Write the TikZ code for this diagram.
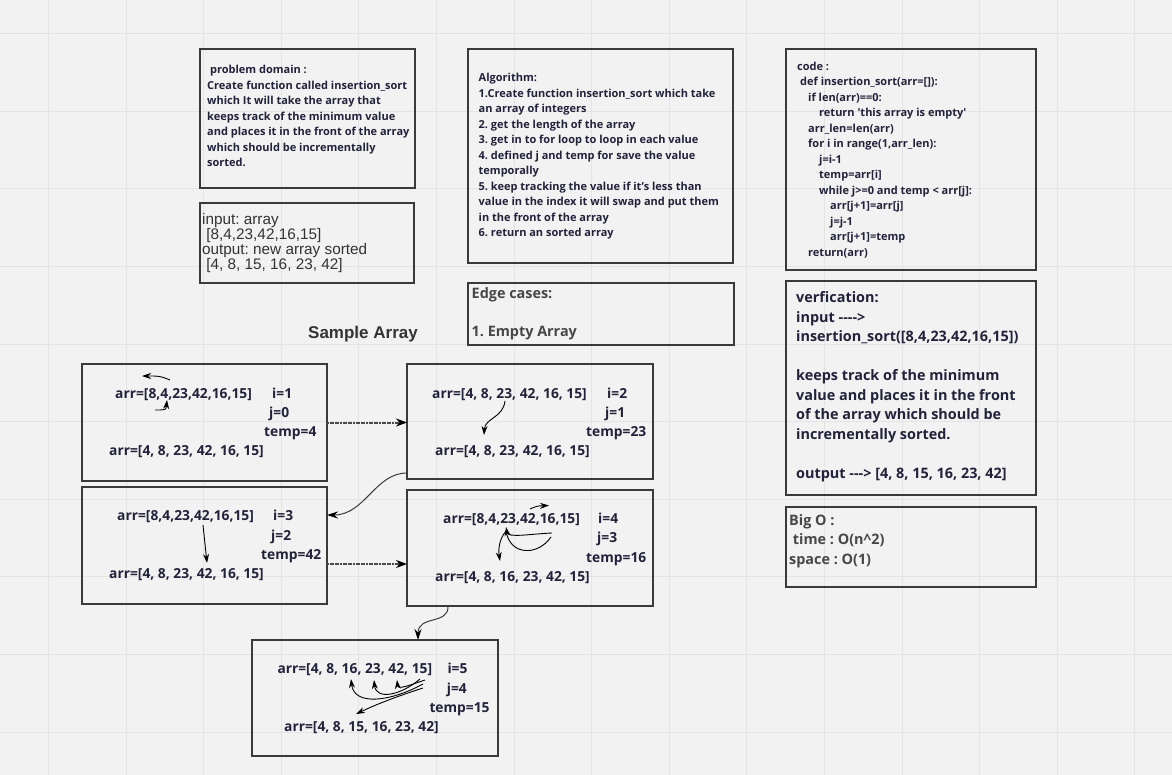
\documentclass[tikz,border=0pt]{standalone}
\usepackage{fontspec}
\setmainfont{Open Sans}
\newfontfamily\arialf{Liberation Sans}
\usetikzlibrary{arrows.meta}
\definecolor{bgc}{HTML}{F2F2F2}
\definecolor{gridc}{HTML}{E4E4E4}
\definecolor{boxc}{HTML}{3A3A3A}
\definecolor{navy}{HTML}{22223A}
\definecolor{grayt}{HTML}{474747}
\definecolor{iot}{HTML}{333333}
\definecolor{dotc}{HTML}{4A4A4A}
\newcommand\stk[2]{\vtop{\baselineskip=#1\lineskiplimit=-100pt\lineskip=0pt\relax #2}}
\newcommand\rw[1]{\hbox{#1}}
\begin{document}
\frenchspacing
\begin{tikzpicture}[x=1pt,y=-1pt,
  panel/.style={draw=boxc,line width=2pt,inner sep=0pt,outer sep=0pt,anchor=north west},
  txt/.style={inner sep=0pt,anchor=base west,text=navy,font=\fontsize{11}{15.5}\selectfont\bfseries\frenchspacing},
  bigt/.style={txt,font=\fontsize{14.4}{19.5}\selectfont\bfseries\frenchspacing},
  grayb/.style={bigt,text=grayt},
  iotxt/.style={inner sep=0pt,anchor=base west,text=iot,font=\fontsize{15.3}{15.2}\selectfont\arialf\frenchspacing},
  arrt/.style={txt,font=\fontsize{13.8}{18}\selectfont\bfseries\frenchspacing},
  gridline/.style={draw=gridc,line width=1.1pt},
  sarr/.style={draw=black,line width=0.9pt,-{Stealth[length=9pt,width=6pt]}},
  conn/.style={draw=boxc,line width=1pt,-{Stealth[length=11pt,width=7pt,color=black]}},
  dotconn/.style={draw=dotc,line width=2pt,dash pattern=on 2pt off 0.6pt,-{Stealth[length=11pt,width=8pt,color=black]}}
]
\useasboundingbox (0,0) rectangle (1172,775);
\fill[bgc] (0,0) rectangle (1172,775);
\foreach \i in {0,...,14} \draw[gridline] ({48.5+77.6*\i},0) -- ({48.5+77.6*\i},775);
\foreach \j in {0,...,9} \draw[gridline] (0,{33.7+77.6*\j}) -- (1172,{33.7+77.6*\j});

% panels
\node[panel,minimum width=215pt,minimum height=139pt] (pd) at (200,49) {};
\node[panel,minimum width=214pt,minimum height=80pt] (io) at (200,203) {};
\node[panel,minimum width=265pt,minimum height=214pt] (alg) at (468,49) {};
\node[panel,minimum width=266pt,minimum height=62pt] (edge) at (468,283) {};
\node[panel,minimum width=250pt,minimum height=221pt] (code) at (786,49) {};
\node[panel,minimum width=250pt,minimum height=214pt] (ver) at (786,281) {};
\node[panel,minimum width=250pt,minimum height=80pt] (bigo) at (786,507) {};
\node[panel,minimum width=245pt,minimum height=117pt] (A) at (82,364) {};
\node[panel,minimum width=246pt,minimum height=115pt] (B) at (407,364) {};
\node[panel,minimum width=245pt,minimum height=117pt] (C) at (82,487) {};
\node[panel,minimum width=246pt,minimum height=116pt] (D) at (407,490) {};
\node[panel,minimum width=246pt,minimum height=116pt] (E) at (252,640) {};

% problem domain
\node[txt] (pdt) at (207,74) {\stk{15.5pt}{%
\rw{\ problem domain :}%
\rw{Create function called insertion\_sort}%
\rw{which It will take the array that}%
\rw{keeps track of the minimum value}%
\rw{and places it in the front of the array}%
\rw{which should be incrementally}%
\rw{sorted.}}};

% input/output
\node[iotxt] (iot) at (202,224.3) {\stk{15.2pt}{%
\rw{input: array}%
\rw{\ [8,4,23,42,16,15]}%
\rw{output: new array sorted}%
\rw{\ [4, 8, 15, 16, 23, 42]}}};

% algorithm
\node[txt] (algt) at (478.5,82) {\stk{15.5pt}{%
\rw{Algorithm:}%
\rw{1.Create function insertion\_sort which take}%
\rw{an array of integers}%
\rw{2. get the length of the array}%
\rw{3. get in to for loop to loop in each value}%
\rw{4. defined j and temp for save the value}%
\rw{temporally}%
\rw{5. keep tracking the value if it's less than}%
\rw{value in the index it will swap and put them}%
\rw{in the front of the array}%
\rw{6. return an sorted array}}};

% edge cases
\node[grayb] (edget) at (471.5,298.2) {\stk{19.2pt}{%
\rw{Edge cases:}%
\rw{}%
\rw{1. Empty Array}}};

% code
\node[txt] (codet) at (797,70.5) {\stk{15.5pt}{%
\rw{code :}%
\rw{\hskip3pt def insertion\_sort(arr=[]):}%
\rw{\hskip11pt if len(arr)==0:}%
\rw{\hskip22pt return \textquotesingle this array is empty\textquotesingle}%
\rw{\hskip11pt arr\_len=len(arr)}%
\rw{\hskip11pt for i in range(1,arr\_len):}%
\rw{\hskip22pt j=i-1}%
\rw{\hskip22pt temp=arr[i]}%
\rw{\hskip22pt while j>=0 and temp < arr[j]:}%
\rw{\hskip33pt arr[j+1]=arr[j]}%
\rw{\hskip33pt j=j-1}%
\rw{\hskip33pt arr[j+1]=temp}%
\rw{\hskip11pt return(arr)}}};

% verification
\node[bigt] (vert) at (796,303) {\stk{19.5pt}{%
\rw{verfication:}%
\rw{input -{}-{}-{}->}%
\rw{insertion\_sort([8,4,23,42,16,15])}%
\rw{}%
\rw{keeps track of the minimum}%
\rw{value and places it in the front}%
\rw{of the array which should be}%
\rw{incrementally sorted.}%
\rw{}%
\rw{output -{}-{}-> [4, 8, 15, 16, 23, 42]}}};

% big O
\node[grayb] (bigot) at (789,525) {\stk{19.5pt}{%
\rw{Big O :}%
\rw{\ time : O(n\textasciicircum 2)}%
\rw{space : O(1)}}};

% sample array title
\node[inner sep=0pt,anchor=base west,text=iot,font=\fontsize{17}{20}\selectfont\arialf\bfseries] (sat) at (308,339) {Sample Array};

% box A
\node[arrt] (a1) at (115,398.3) {arr=[8,4,23,42,16,15]};
\node[arrt] (a2) at (272,398.3) {i=1};
\node[arrt] (a3) at (269,417.3) {j=0};
\node[arrt] (a4) at (264,436.7) {temp=4};
\node[arrt] (a5) at (109,455.7) {arr=[4, 8, 23, 42, 16, 15]};
\draw[sarr] (170,380) .. controls (160,376) .. (142,376);
\draw[sarr] (155,410) .. controls (166,410) .. (167,400);

% box B
\node[arrt] (b1) at (432,398.3) {arr=[4, 8, 23, 42, 16, 15]};
\node[arrt] (b2) at (607,398.3) {i=2};
\node[arrt] (b3) at (605,417.3) {j=1};
\node[arrt] (b4) at (586,436.7) {temp=23};
\node[arrt] (b5) at (435,455.7) {arr=[4, 8, 23, 42, 16, 15]};
\draw[sarr] (505,401) .. controls (503,418) and (485,418) .. (484,435);

% box C
\node[arrt] (c1) at (117,520) {arr=[8,4,23,42,16,15]};
\node[arrt] (c2) at (273,520) {i=3};
\node[arrt] (c3) at (271,540.7) {j=2};
\node[arrt] (c4) at (261,559.3) {temp=42};
\node[arrt] (c5) at (109,578.3) {arr=[4, 8, 23, 42, 16, 15]};
\draw[sarr] (203,525) -- (207,563);

% box D
\node[arrt] (d1) at (443,523.3) {arr=[8,4,23,42,16,15]};
\node[arrt] (d2) at (598,523.3) {i=4};
\node[arrt] (d3) at (597,542.7) {j=3};
\node[arrt] (d4) at (586,562.3) {temp=16};
\node[arrt] (d5) at (435,581.7) {arr=[4, 8, 16, 23, 42, 15]};
\draw[sarr] (530,509) .. controls (537,506) .. (549,505.5);
\draw[sarr] (552,533) .. controls (530,534) and (508,538) .. (506,527);
\draw[line width=0.9pt] (551,537) .. controls (538,556) and (510,556) .. (506,531);
\draw[sarr] (506,531) .. controls (500,538) and (498,548) .. (500,561);

% box E
\node[arrt] (e1) at (277.3,673) {arr=[4, 8, 16, 23, 42, 15]};
\node[arrt] (e2) at (447.3,673) {i=5};
\node[arrt] (e3) at (446.7,693) {j=4};
\node[arrt] (e4) at (429.3,712) {temp=15};
\node[arrt] (e5) at (284,731.7) {arr=[4, 8, 15, 16, 23, 42]};
\draw[sarr] (423,684) .. controls (390,702) and (354,706) .. (351,679);
\draw[sarr] (420,679) .. controls (400,696) and (376,700) .. (374,680);
\draw[sarr] (425,680) .. controls (410,685) and (398,690) .. (397,680);
\draw[sarr] (423,688) .. controls (395,697) and (375,705) .. (356,714);

% connectors
\draw[dotconn] (A.east) -- (A.east -| B.west);
\coordinate (bc1) at ([yshift=6pt]B.south west);
\coordinate (bc2) at ([yshift=30.5pt]C.east);
\draw[conn] (bc1) .. controls (375,473) and (365,515) .. (bc2);
\coordinate (cd) at ([yshift=-18.5pt]C.east);
\draw[dotconn] (cd) -- (cd -| D.west);
\coordinate (de1) at ([xshift=41pt]D.south west);
\coordinate (de2) at ([xshift=166pt]E.north west);
\draw[conn] (de1) .. controls (449,625) and (418,615) .. (de2);
\end{tikzpicture}
\end{document}
